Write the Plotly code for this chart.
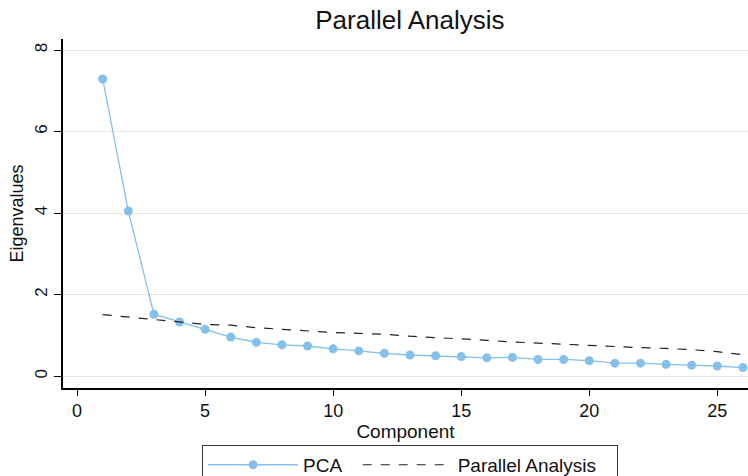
import plotly.graph_objects as go

components = list(range(1, 27))
pca_eigen = [7.29, 4.05, 1.52, 1.33, 1.15, 0.96, 0.83, 0.77, 0.74, 0.67, 0.62, 0.56, 0.52,
             0.50, 0.48, 0.45, 0.46, 0.41, 0.41, 0.38, 0.32, 0.32, 0.29, 0.27, 0.25, 0.21]
parallel_eigen = [1.51, 1.45, 1.40, 1.33, 1.27, 1.25, 1.19, 1.15, 1.11, 1.07, 1.05, 1.03, 0.98,
                  0.95, 0.92, 0.88, 0.84, 0.81, 0.78, 0.75, 0.73, 0.70, 0.68, 0.65, 0.60, 0.53]
x_ticks = [0, 5, 10, 15, 20, 25]
y_ticks = [0, 2, 4, 6, 8]

blue = "#85c0eb"
font = "Liberation Sans, Arial, sans-serif"

fig = go.Figure()
fig.add_trace(go.Scatter(x=components, y=pca_eigen, mode="lines+markers", name="PCA\u00a0\u00a0",
                         line=dict(color=blue, width=1.3),
                         marker=dict(color=blue, size=9)))
fig.add_trace(go.Scatter(x=components, y=parallel_eigen, mode="lines",
                         name="Parallel Analysis\u00a0\u00a0\u00a0",
                         line=dict(color="#222222", width=1.2, dash="dash")))

fig.update_layout(
    width=748, height=476,
    margin=dict(l=63, r=0, t=39, b=88, autoexpand=False),
    paper_bgcolor="white", plot_bgcolor="white",
    font=dict(family=font, color="#111111", size=17),
    title=dict(text="Parallel Analysis", x=0.548, xanchor="center", y=0.958, yanchor="middle",
               font=dict(size=26, family=font, color="#111111")),
    showlegend=True,
    legend=dict(orientation="h", x=0.203, xanchor="left", y=-0.163, yanchor="top",
                bordercolor="#333333", borderwidth=1, font=dict(size=19, family=font),
                itemwidth=90),
    xaxis=dict(range=[-0.55, 26.2], tickvals=x_ticks, showgrid=False, zeroline=False,
               showline=True, linecolor="black", linewidth=1.5,
               ticks="outside", ticklen=6, tickcolor="black",
               tickfont=dict(size=18),
               title=dict(text="Component", font=dict(size=19), standoff=0)),
    yaxis=dict(range=[-0.29, 8.27], tickvals=y_ticks, showgrid=True, gridcolor="#e8e8e8",
               gridwidth=1, zeroline=False, showline=True, linecolor="black", linewidth=1.5,
               ticks="outside", ticklen=7, tickcolor="black", tickangle=-90,
               tickfont=dict(size=17),
               title=dict(text="Eigenvalues", font=dict(size=18), standoff=4)),
)

fig.write_html("out.html")
